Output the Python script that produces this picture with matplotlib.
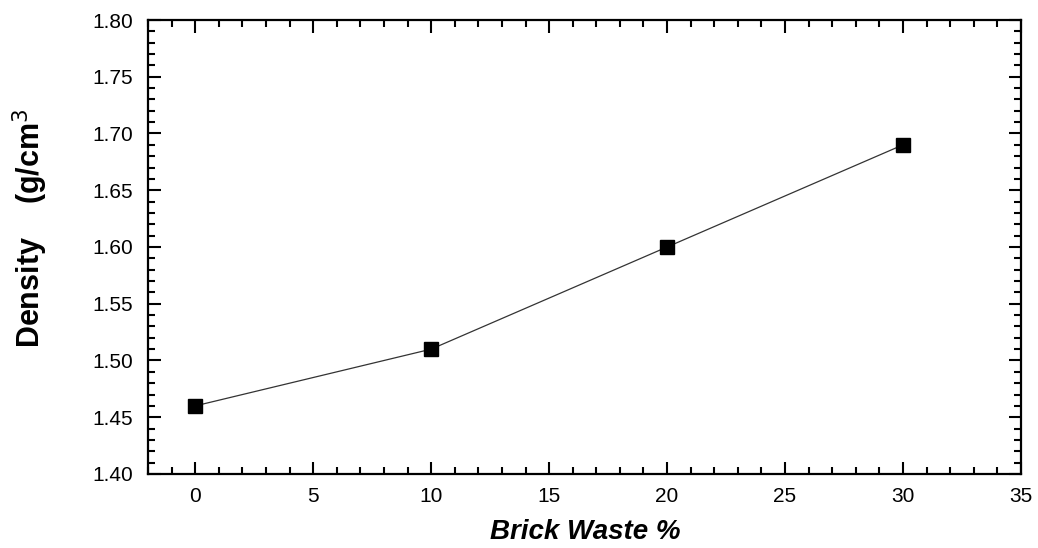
import matplotlib
matplotlib.use("Agg")
import matplotlib.pyplot as plt
from matplotlib.ticker import MultipleLocator, FormatStrFormatter

brick_waste = [0, 10, 20, 30]
density = [1.46, 1.51, 1.60, 1.69]

plt.rcParams['font.family'] = ['Liberation Sans', 'DejaVu Sans']

W, H = 1038, 548
fig = plt.figure(figsize=(W / 100, H / 100), dpi=100)
ax = fig.add_axes([148 / W, 1 - 474 / H, (1021 - 148) / W, (474 - 20) / H])

ax.plot(brick_waste, density, color='#333333', lw=0.9, marker='s',
        markersize=9.5, markerfacecolor='black', markeredgecolor='black', zorder=3)

ax.set_xlim(-2, 35)
ax.set_ylim(1.40, 1.80)
ax.xaxis.set_major_locator(MultipleLocator(5))
ax.xaxis.set_minor_locator(MultipleLocator(1))
ax.yaxis.set_major_locator(MultipleLocator(0.05))
ax.yaxis.set_minor_locator(MultipleLocator(0.01))
ax.yaxis.set_major_formatter(FormatStrFormatter('%.2f'))

ax.tick_params(which='both', direction='in', top=True, right=True, width=1.5)
ax.tick_params(which='major', length=9, labelsize=15)
ax.tick_params(axis='x', which='major', pad=9)
ax.tick_params(axis='y', which='major', pad=11)
ax.tick_params(which='minor', length=5)
for s in ax.spines.values():
    s.set_linewidth(1.6)

fig.text(585 / W, 1 - 532 / H, 'Brick Waste %', fontsize=20, fontweight='bold',
         fontstyle='italic', ha='center', va='center')
fig.text(30 / W, 1 - 228 / H, 'Density    (g/cm$^3$', fontsize=22, fontweight='bold',
         rotation=90, ha='center', va='center')

fig.savefig('out.png', dpi=100)
